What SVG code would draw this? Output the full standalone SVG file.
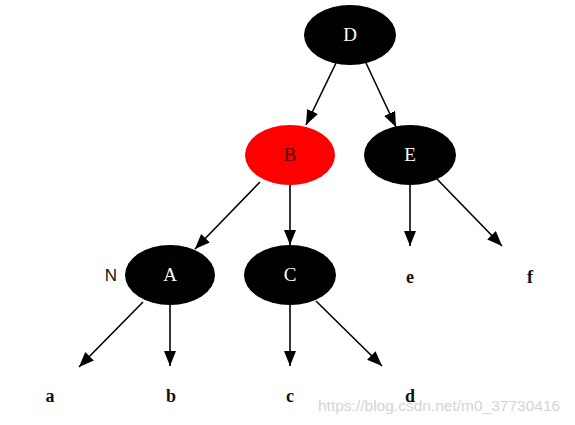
<svg xmlns="http://www.w3.org/2000/svg" width="575" height="425" viewBox="0 0 575 425">
<defs>
<marker id="ah" markerUnits="userSpaceOnUse" markerWidth="16" markerHeight="14" refX="15" refY="6" orient="auto">
<path d="M0,0 L15,6 L0,12 Z" fill="#000"/>
</marker>
<style>
.node{fill:#000}
.red{fill:#ff0000}
.nt{font-family:"Liberation Serif",serif;font-size:19px;fill:#fff;text-anchor:middle}
.leaf{font-family:"Liberation Serif",serif;font-size:18px;font-weight:bold;fill:#111;text-anchor:middle}
.edge{stroke:#000;stroke-width:1.6;fill:none;marker-end:url(#ah)}
</style>
</defs>
<rect width="575" height="425" fill="#fff"/>
<g id="connectors">
<line class="edge" x1="336" y1="63" x2="306" y2="125"/>
<line class="edge" x1="366" y1="63" x2="396" y2="127"/>
<line class="edge" x1="260" y1="182" x2="195" y2="249"/>
<line class="edge" x1="290" y1="185" x2="290" y2="245"/>
<line class="edge" x1="410" y1="185" x2="410" y2="246"/>
<line class="edge" x1="436" y1="178" x2="502" y2="246"/>
<line class="edge" x1="143" y1="302" x2="79" y2="367"/>
<line class="edge" x1="170" y1="305" x2="170" y2="366"/>
<line class="edge" x1="290" y1="305" x2="290" y2="366"/>
<line class="edge" x1="316" y1="301" x2="382" y2="366"/>
</g>
<g id="D"><ellipse class="node" cx="350" cy="35" rx="46" ry="30"/><text class="nt" x="350" y="41">D</text></g>
<g id="B"><ellipse class="red" cx="290" cy="155" rx="45" ry="30"/><text class="nt" x="290" y="161" style="fill:#5a0000">B</text></g>
<g id="E"><ellipse class="node" cx="410" cy="155" rx="46" ry="30"/><text class="nt" x="410" y="161">E</text></g>
<g id="A"><ellipse class="node" cx="170" cy="275" rx="45" ry="30"/><text class="nt" x="170" y="281">A</text></g>
<g id="C"><ellipse class="node" cx="290" cy="275" rx="46" ry="30"/><text class="nt" x="290" y="281">C</text></g>
<g id="N"><text x="111" y="281" style="font-family:'Liberation Sans',sans-serif;font-size:17px;fill:#111;text-anchor:middle">N</text></g>
<g id="a"><text class="leaf" x="50" y="402">a</text></g>
<g id="b"><text class="leaf" x="171" y="402">b</text></g>
<g id="c"><text class="leaf" x="290" y="402">c</text></g>
<g id="d"><text class="leaf" x="410" y="402">d</text></g>
<g id="e"><text class="leaf" x="410" y="283">e</text></g>
<g id="f"><text class="leaf" x="530" y="283">f</text></g>
<text x="318" y="411" style="font-family:'Liberation Sans',sans-serif;font-size:15.5px;fill:#d4d4d4">https://blog.csdn.net/m0_37730416</text>
</svg>
